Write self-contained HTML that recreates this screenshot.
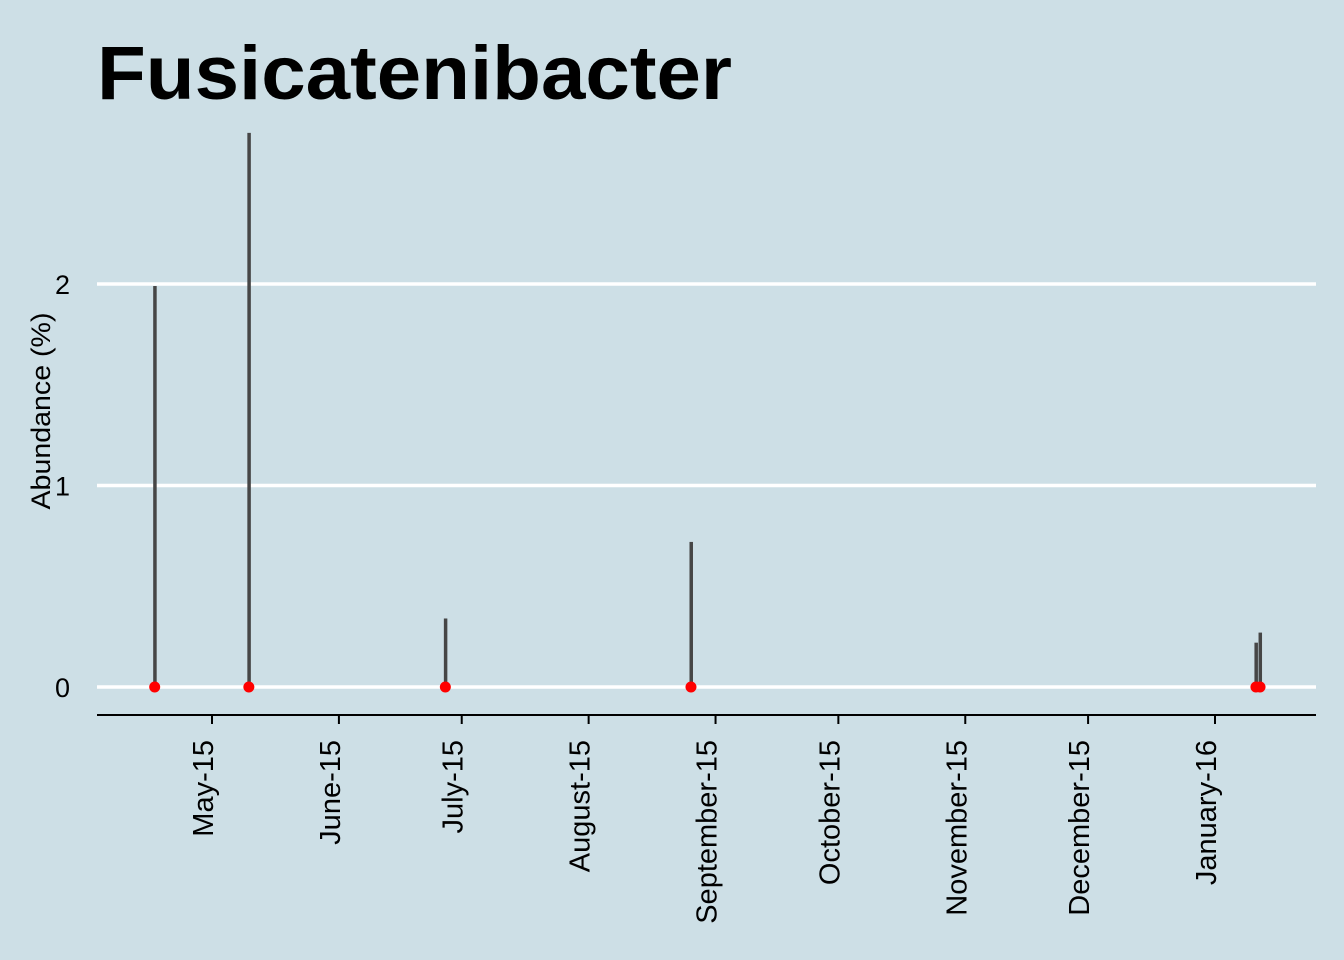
<!DOCTYPE html>
<html><head><meta charset="utf-8"><style>
body{margin:0;background:#cddfe6;}
svg{display:block;font-family:"Liberation Sans",Arial,sans-serif;}
</style></head><body>
<svg id="c" width="1344" height="960">
<rect width="1344" height="960" fill="#cddfe6"/>
<text x="97" y="99" font-size="76" font-weight="bold" fill="#000" textLength="635" lengthAdjust="spacingAndGlyphs">Fusicatenibacter</text>
<text transform="translate(50,411) rotate(-90)" text-anchor="middle" font-size="27" textLength="197" lengthAdjust="spacingAndGlyphs" fill="#000">Abundance (%)</text>
<g id="grid"></g><g id="bars"></g><g id="pts"></g><g id="xax"></g>
</svg>
<script>
const dates=["2015-04-17","2015-05-10","2015-06-27","2015-08-26","2016-01-11","2016-01-12"];
const values=[1.99,2.75,0.34,0.72,0.22,0.27];
const yTicks=[0,1,2];
const xTickDates=["2015-05-01","2015-06-01","2015-07-01","2015-08-01","2015-09-01","2015-10-01","2015-11-01","2015-12-01","2016-01-01"];
const xTickLabels=["May-15","June-15","July-15","August-15","September-15","October-15","November-15","December-15","January-16"];
const NS="http://www.w3.org/2000/svg";
const d0=Date.UTC(2015,4,1), dayPx=(1215-212)/245;
function X(s){const p=s.split('-');return 212+(Date.UTC(+p[0],p[1]-1,+p[2])-d0)/864e5*dayPx;}
function Y(v){return 687-v*201.5;}
function mk(t,a,par){const e=document.createElementNS(NS,t);for(const k in a)e.setAttribute(k,a[k]);document.getElementById(par).appendChild(e);return e;}
yTicks.forEach(v=>{
 const l=mk('line',{x1:97,x2:1316,y1:Y(v),y2:Y(v),stroke:'#fff','stroke-width':3.5},'grid');
 
 
 const t=mk('text',{x:70,y:Y(v)+10,'text-anchor':'end','font-size':27},'grid');t.textContent=v;
 
 
});
dates.forEach((d,i)=>{
 const x=X(d);
 const r=mk('rect',{x:x-1.5,y:Y(values[i]),width:3.5,height:Y(0)-Y(values[i]),fill:'#464646'},'bars');
 
 
 const c=mk('circle',{cx:x,cy:Y(0),r:5.5,fill:'#ff0000'},'pts');
 
 
});
const ax=mk('line',{x1:97,x2:1316,y1:715,y2:715,stroke:'#000','stroke-width':2},'xax');


xTickDates.forEach((d,i)=>{
 const x=X(d);
 const tk=mk('line',{x1:x,x2:x,y1:715,y2:724,stroke:'#000','stroke-width':2},'xax');
 
 
 const t=mk('text',{transform:`translate(${x+1},740) rotate(-90)`,'text-anchor':'end','font-size':29},'xax');
 t.textContent=xTickLabels[i];
 
 
});
</script>
</body></html>
